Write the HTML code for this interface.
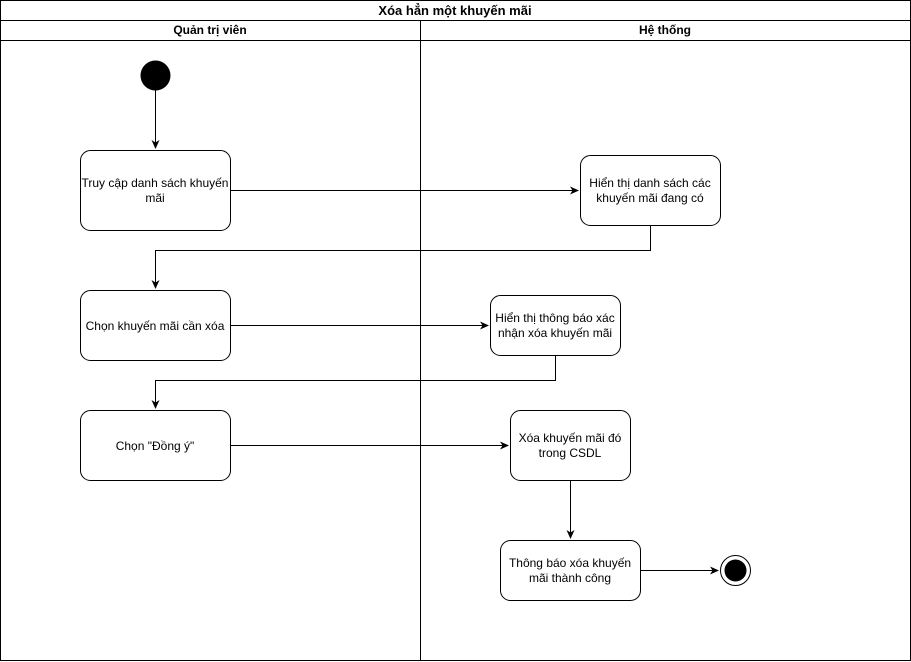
<!DOCTYPE html>
<html><head><meta charset="utf-8"><style>
html,body{margin:0;padding:0;background:#fff;}
svg{display:block;}
text{font-family:"Liberation Sans",Arial,sans-serif;font-size:12px;fill:#000;}
.b{font-weight:bold;}
</style></head><body>
<svg width="911" height="662" viewBox="0 0 911 662" xmlns="http://www.w3.org/2000/svg">
<defs><marker id="ar" markerWidth="10" markerHeight="10" refX="8" refY="5" orient="auto" markerUnits="userSpaceOnUse"><path d="M0,1 L9,5 L0,9 L2.5,5 Z" fill="#000"/></marker></defs>
<g fill="none" stroke="#000" stroke-width="1">
<rect x="0.5" y="0.5" width="910" height="660"/>
<line x1="0.5" y1="20.5" x2="910.5" y2="20.5"/>
<line x1="0.5" y1="40.5" x2="910.5" y2="40.5"/>
<line x1="420.5" y1="20.5" x2="420.5" y2="660.5"/>
<rect x="80.5" y="150.5" width="150" height="80" rx="10"/>
<rect x="580.5" y="155.5" width="140" height="70" rx="10"/>
<rect x="80.5" y="290.5" width="150" height="70" rx="10"/>
<rect x="490.5" y="295.5" width="130" height="60" rx="10"/>
<rect x="80.5" y="410.5" width="150" height="70" rx="10"/>
<rect x="510.5" y="410.5" width="120" height="70" rx="10"/>
<rect x="500.5" y="540.5" width="140" height="60" rx="10"/>
<path d="M155.5,90 V148" marker-end="url(#ar)"/>
<path d="M230.5,190.5 H578" marker-end="url(#ar)"/>
<path d="M650.5,225.5 V250.5 H155.5 V288" marker-end="url(#ar)"/>
<path d="M230.5,325.5 H488" marker-end="url(#ar)"/>
<path d="M555.5,355.5 V380.5 H155.5 V408" marker-end="url(#ar)"/>
<path d="M230.5,445.5 H508" marker-end="url(#ar)"/>
<path d="M570.5,480.5 V538" marker-end="url(#ar)"/>
<path d="M640.5,570.5 H718" marker-end="url(#ar)"/>
<circle cx="735.5" cy="570.5" r="15"/>
</g>
<circle cx="155.5" cy="75.5" r="15" fill="#000"/>
<circle cx="735.5" cy="570.5" r="11" fill="#000"/>
<g text-anchor="middle">
<text x="455" y="15" class="b" style="font-size:13px">Xóa hẳn một khuyến mãi</text>
<text x="210" y="34" class="b">Quản trị viên</text>
<text x="665" y="34" class="b">Hệ thống</text>
<text x="155" y="187">Truy cập danh sách khuyến</text>
<text x="155" y="202">mãi</text>
<text x="650" y="187">Hiển thị danh sách các</text>
<text x="650" y="202">khuyến mãi đang có</text>
<text x="155" y="330">Chọn khuyến mãi cần xóa</text>
<text x="555" y="322">Hiển thị thông báo xác</text>
<text x="555" y="337">nhận xóa khuyến mãi</text>
<text x="155" y="450">Chọn "Đồng ý"</text>
<text x="570" y="442">Xóa khuyến mãi đó</text>
<text x="570" y="457">trong CSDL</text>
<text x="570" y="567">Thông báo xóa khuyến</text>
<text x="570" y="582">mãi thành công</text>
</g>
</svg>
</body></html>
